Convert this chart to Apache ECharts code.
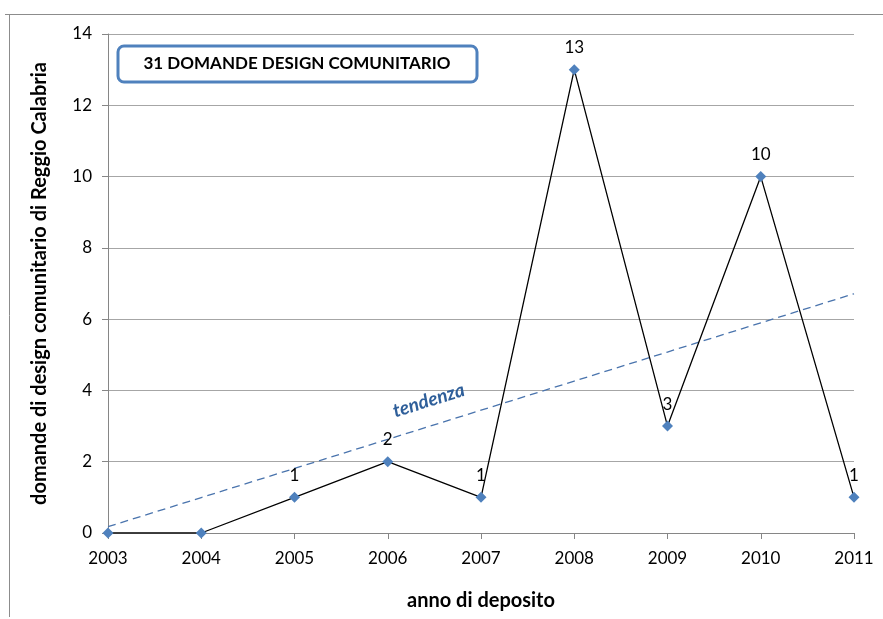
<!DOCTYPE html>
<html>
<head>
<meta charset="utf-8">
<script src="https://cdn.jsdelivr.net/npm/echarts@6/dist/echarts.min.js"></script>
<style>
  html, body { margin: 0; padding: 0; background: #fff; }
  #chart { width: 883px; height: 619px; }
</style>
</head>
<body>
<div id="chart"></div>
<script>
// Annual design applications (Reggio Calabria)
const years = ['2003', '2004', '2005', '2006', '2007', '2008', '2009', '2010', '2011'];
const applications = [0, 0, 1, 2, 1, 13, 3, 10, 1];
const yTicks = [0, 2, 4, 6, 8, 10, 12, 14];
const boxTitle = '31 DOMANDE DESIGN COMUNITARIO';
const trendName = 'tendenza';
const xTitle = 'anno di deposito';
const yTitle = 'domande di design comunitario di Reggio Calabria';

// Least-squares linear trend over the category index
function linearTrend(values) {
  const n = values.length;
  let sx = 0, sy = 0, sxy = 0, sxx = 0;
  values.forEach((v, i) => { sx += i; sy += v; sxy += i * v; sxx += i * i; });
  const slope = (n * sxy - sx * sy) / (n * sxx - sx * sx);
  const icpt = (sy - slope * sx) / n;
  return values.map((_, i) => +(icpt + slope * i).toFixed(4));
}
const trend = linearTrend(applications);

const FONT = 'Lato, "Open Sans", sans-serif';
const chart = echarts.init(document.getElementById('chart'), null, { renderer: 'canvas' });

const grid = { left: 108, right: 29, top: 34, bottom: 86 };

chart.setOption({
  animation: false,
  backgroundColor: '#fff',
  grid: grid,
  xAxis: {
    type: 'category',
    data: years,
    boundaryGap: false,
    axisLine: { lineStyle: { color: '#868686', width: 1 } },
    axisTick: { show: true, alignWithLabel: true, length: 6, lineStyle: { color: '#868686' } },
    axisLabel: { color: '#000', fontFamily: FONT, fontSize: 17, margin: 17 },
    splitLine: { show: false },
    name: xTitle,
    nameLocation: 'middle',
    nameGap: 58,
    nameTextStyle: { color: '#000', fontFamily: FONT, fontSize: 20, fontWeight: 'bold' }
  },
  yAxis: {
    type: 'value',
    min: yTicks[0],
    max: yTicks[yTicks.length - 1],
    interval: yTicks[1] - yTicks[0],
    axisLine: { show: true, lineStyle: { color: '#868686', width: 1 } },
    axisTick: { show: true, inside: false, length: 6, lineStyle: { color: '#868686' } },
    axisLabel: { color: '#000', fontFamily: FONT, fontSize: 17, margin: 16 },
    splitLine: { show: true, lineStyle: { color: '#a6a6a6', width: 1 } },
    name: yTitle,
    nameLocation: 'middle',
    nameGap: 58,
    nameTextStyle: { color: '#000', fontFamily: FONT, fontSize: 20, fontWeight: 'bold' }
  },
  series: [
    {
      name: trendName,
      type: 'line',
      data: trend,
      symbol: 'none',
      z: 2,
      lineStyle: { color: '#4a74ad', width: 1.3, type: [8, 5] }
    },
    {
      name: 'domande',
      type: 'line',
      data: applications,
      symbol: 'diamond',
      symbolSize: 11,
      z: 3,
      itemStyle: { color: '#4f81bd' },
      lineStyle: { color: '#000', width: 1.3 },
      label: {
        show: true,
        position: 'top',
        distance: 8,
        color: '#000',
        fontFamily: FONT,
        fontSize: 17,
        formatter: p => (p.value === 0 ? '' : String(p.value))
      }
    }
  ]
});

// Trend caption along the dashed line, frame and title box
function placeDecorations() {
  const p0 = chart.convertToPixel({ gridIndex: 0 }, [0, trend[0]]);
  const p1 = chart.convertToPixel({ gridIndex: 0 }, [trend.length - 1, trend[trend.length - 1]]);
  const angle = Math.atan2(p0[1] - p1[1], p1[0] - p0[0]);
  const t = 0.43;
  const cx = p0[0] + t * (p1[0] - p0[0]);
  const cy = p0[1] + t * (p1[1] - p0[1]);

  chart.setOption({
    graphic: [
      { type: 'line', shape: { x1: 5, y1: 14.5, x2: 883, y2: 14.5 }, style: { stroke: '#8c8c8c', lineWidth: 1 } },
      { type: 'line', shape: { x1: 9.5, y1: 14, x2: 9.5, y2: 617 }, style: { stroke: '#8c8c8c', lineWidth: 1 } },
      {
        type: 'rect',
        shape: { x: 118, y: 46, width: 359, height: 36, r: 6 },
        style: { fill: '#fff', stroke: '#4f81bd', lineWidth: 3 },
        z: 10
      },
      {
        type: 'text',
        x: 297, y: 64,
        style: {
          text: boxTitle, fill: '#000', font: 'bold 17px ' + FONT,
          align: 'center', verticalAlign: 'middle'
        },
        z: 11
      },
      {
        type: 'text',
        x: cx, y: cy - 26,
        rotation: angle,
        style: {
          text: trendName, fill: '#2f5f9a', font: 'italic bold 19px ' + FONT,
          align: 'center', verticalAlign: 'middle'
        },
        z: 11
      }
    ]
  });
}
placeDecorations();
</script>
</body>
</html>
